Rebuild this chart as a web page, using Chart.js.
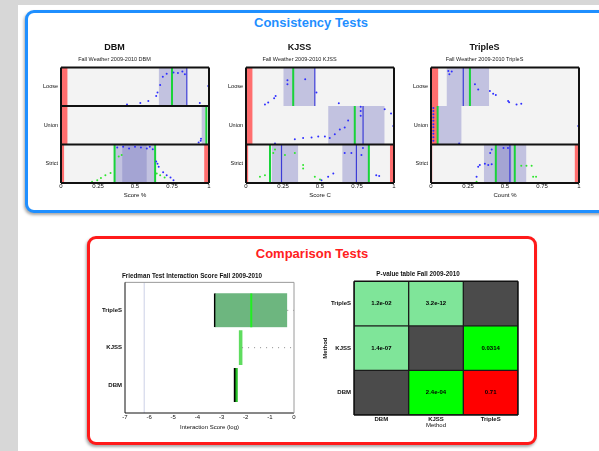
<!DOCTYPE html>
<html>
<head>
<meta charset="utf-8">
<script src="https://cdn.jsdelivr.net/npm/chart.js@4.4.1/dist/chart.umd.min.js"></script>
<style>
  html, body { margin: 0; padding: 0; }
  body { width: 599px; height: 451px; overflow: hidden; position: relative; background: #d7d7d7;
         font-family: "Liberation Sans", Arial, sans-serif; }
  #sheet { position: absolute; left: 18px; top: 5px; right: 0; bottom: 0; background: #fff; }
  .panel { position: absolute; box-sizing: border-box; border-radius: 9px; background: #fff; }
  #consistency { left: 25px; top: 10px; width: 600px; height: 203px; border: 3px solid #1f8fff;
                 box-shadow: -1px 2px 3px rgba(0,0,0,0.35); }
  #comparison { left: 87px; top: 236px; width: 450px; height: 209px; border: 3px solid #ff1a1a;
                box-shadow: -1px 2px 3px rgba(0,0,0,0.35); }
  .heading { position: absolute; width: 240px; text-align: center; font-weight: bold; font-size: 13px;
             line-height: 15px; white-space: nowrap; }
  #h1 { left: 191px; top: 14.5px; color: #1f8fff; }
  #h2 { left: 192px; top: 245.5px; color: #ff2020; }
  canvas { position: absolute; }
</style>
</head>
<body>
<div id="sheet"></div>
<div class="panel" id="consistency"></div>
<div class="panel" id="comparison"></div>
<div class="heading" id="h1">Consistency Tests</div>
<div class="heading" id="h2">Comparison Tests</div>

<canvas id="cDBM" width="200" height="163" style="left:20px;top:40px"></canvas>
<canvas id="cKJSS" width="200" height="163" style="left:205px;top:40px"></canvas>
<canvas id="cTripleS" width="200" height="163" style="left:390px;top:40px"></canvas>
<canvas id="cFriedman" width="215" height="165" style="left:90px;top:268px"></canvas>
<canvas id="cPvalue" width="210" height="164" style="left:318px;top:268px"></canvas>

<script>
// ---------- consistency panels ----------
const rowNames = ['Loose', 'Union', 'Strict'];
const scoreTicks = [0, 0.25, 0.5, 0.75, 1];
const scoreTickLabels = ['0', '0.25', '0.5', '0.75', '1'];

// [row, from, to]
const dbmRed = [[0, 0, 0.045], [1, 0, 0.045], [2, 0, 0.022], [2, 0.967, 1]];
const dbmBand = [[0, 0.66, 0.85], [1, 0.949, 0.978], [2, 0.362, 0.636]];
const dbmCore = [[2, 0.413, 0.58]];
// [row, x]
const dbmGreen = [[0, 0.75], [1, 0.982], [2, 0.362], [2, 0.636]];
const dbmBlue = [[0, 0.85]];
// [x, y]  (y = row + position inside the row, top = 0)
const dbmBlueDots = [
  [0.446, 0.96], [0.536, 0.92], [0.59, 0.87], [0.643, 0.74], [0.652, 0.65], [0.67, 0.45],
  [0.688, 0.24], [0.714, 0.16], [0.76, 0.13], [0.79, 0.14], [0.82, 0.10], [0.837, 0.17],
  [0.938, 0.92], [0.995, 0.48],
  [0.93, 1.95], [0.944, 1.9], [0.946, 1.85],
  [0.38, 2.08], [0.42, 2.06], [0.46, 2.1], [0.5, 2.06], [0.54, 2.08], [0.58, 2.1], [0.6, 2.06],
  [0.62, 2.12], [0.643, 2.44], [0.652, 2.5], [0.66, 2.58], [0.69, 2.72], [0.714, 2.8],
  [0.74, 2.86], [0.76, 2.93]
];
const dbmGreenDots = [
  [0.21, 2.97], [0.245, 2.93], [0.27, 2.87], [0.3, 2.8], [0.335, 2.74], [0.39, 2.31],
  [0.41, 2.27], [0.647, 2.75], [0.67, 2.8], [0.7, 2.86]
];
const dbmDividers = [1, 2];

const kjssRed = [[0, 0, 0.045], [1, 0, 0.045], [2, 0, 0.016], [2, 0.972, 1]];
const kjssBand = [[0, 0.252, 0.465], [1, 0.555, 0.937], [2, 0.173, 0.353], [2, 0.65, 0.83]];
const kjssCore = [];
const kjssGreen = [[0, 0.319], [1, 0.735], [2, 0.162], [2, 0.83]];
const kjssBlue = [[0, 0.465], [1, 0.791], [2, 0.24], [2, 0.746]];
const kjssBlueDots = [
  [0.128, 0.96], [0.15, 0.91], [0.19, 0.8], [0.2, 0.74], [0.28, 0.33], [0.28, 0.43],
  [0.4, 0.3], [0.476, 0.65], [0.627, 0.93],
  [0.196, 1.975], [0.33, 1.86], [0.386, 1.83], [0.443, 1.82], [0.488, 1.79], [0.533, 1.79],
  [0.566, 1.83], [0.6, 1.73], [0.634, 1.61], [0.667, 1.56], [0.69, 1.375], [0.775, 1.02],
  [0.775, 1.125], [0.775, 1.25], [0.937, 1.08], [0.98, 1.19], [0.995, 1.52],
  [0.51, 2.93], [0.555, 2.84], [0.59, 2.75], [0.667, 2.22], [0.712, 2.22], [0.79, 2.09],
  [0.78, 2.27], [0.88, 2.8], [0.9, 2.82]
];
const kjssGreenDots = [
  [0.094, 2.84], [0.128, 2.8], [0.184, 2.22], [0.196, 2.13], [0.263, 2.27], [0.33, 2.22],
  [0.386, 2.53], [0.386, 2.62], [0.465, 2.84], [0.5, 2.91]
];
const kjssDividers = [2];

const tripRed = [[0, 0, 0.05], [1, 0, 0.05], [2, 0, 0.01], [2, 0.97, 1]];
const tripBand = [[0, 0.105, 0.393], [1, 0.05, 0.207], [2, 0.357, 0.645]];
const tripCore = [[2, 0.438, 0.544]];
const tripGreen = [[0, 0.263], [1, 0.045], [2, 0.438], [2, 0.566]];
const tripBlue = [[0, 0.218], [2, 0.533]];
const tripBlueDots = [
  [0.117, 0.09], [0.124, 0.17], [0.14, 0.1], [0.297, 0.43], [0.319, 0.57], [0.398, 0.61],
  [0.42, 0.68], [0.438, 0.71], [0.521, 0.87], [0.528, 0.9], [0.578, 0.96], [0.61, 0.94],
  [0.016, 1.05], [0.016, 1.13], [0.016, 1.21], [0.016, 1.3], [0.016, 1.38], [0.016, 1.47],
  [0.016, 1.55], [0.016, 1.64], [0.016, 1.72], [0.016, 1.81], [0.016, 1.9], [0.19, 1.97],
  [0.995, 1.52],
  [0.308, 2.84], [0.319, 2.58], [0.33, 2.53], [0.364, 2.5], [0.387, 2.53], [0.41, 2.51],
  [0.4, 2.22], [0.41, 2.13], [0.49, 2.09], [0.52, 2.09]
];
const tripGreenDots = [
  [0.308, 2.97], [0.61, 2.55], [0.645, 2.55], [0.68, 2.55], [0.69, 2.84], [0.71, 2.84]
];
const tripDividers = [2];

// ---------- Friedman interaction score ----------
const friedMethods = ['TripleS', 'KJSS', 'DBM'];
const friedLow = [-3.31, -2.27, -2.49];
const friedHigh = [-0.28, -2.15, -2.33];
const friedMedian = [[0, -1.77]];
const friedWhiskers = [[0, -0.28, 0], [1, -2.15, 0]];
const friedRef = [-6.2];
const friedTicks = [-7, -6, -5, -4, -3, -2, -1, 0];

// ---------- p-value table ----------
const pCols = ['DBM', 'KJSS', 'TripleS'];
const pRows = ['TripleS', 'KJSS', 'DBM'];
const pLabels = [
  ['1.2e-02', '3.2e-12', ''],
  ['1.4e-07', '', '0.0314'],
  ['', '2.4e-04', '0.71']
];
const pShade = [
  ['#7fe599', '#7fe599', '#4b4b4b'],
  ['#7fe599', '#4b4b4b', '#00ff00'],
  ['#4b4b4b', '#00ff00', '#ff0000']
];

const FONT = '"Liberation Sans", Arial, sans-serif';
Chart.defaults.font.family = FONT;
Chart.defaults.color = '#111';

// plot background + frame around the chart area
const framePlugin = {
  id: 'frame',
  beforeDatasetsDraw(chart, args, o) {
    if (!o.bg) return;
    const { ctx, chartArea: a } = chart;
    ctx.save();
    ctx.fillStyle = o.bg;
    ctx.fillRect(a.left, a.top, a.width, a.height);
    ctx.restore();
  },
  afterDatasetsDraw(chart, args, o) {
    const { ctx, chartArea: a } = chart;
    const sides = o.sides || {};
    const seg = (c, x1, y1, x2, y2) => {
      if (!c) return;
      ctx.beginPath(); ctx.strokeStyle = c; ctx.lineWidth = o.width || 1;
      ctx.moveTo(x1, y1); ctx.lineTo(x2, y2); ctx.stroke();
    };
    ctx.save();
    seg(sides.top, a.left, a.top, a.right, a.top);
    seg(sides.bottom, a.left, a.bottom, a.right, a.bottom);
    seg(sides.left, a.left, a.top, a.left, a.bottom);
    seg(sides.right, a.right, a.top, a.right, a.bottom);
    ctx.restore();
  }
};

const baseOpts = {
  responsive: false, animation: false, devicePixelRatio: 1, events: []
};

function consistencyChart(id, cfg) {
  const ds = [];
  const rect = (r, a, b, color, order) => ({
    type: 'line', data: [{ x: a, y: r }, { x: b, y: r }], fill: { value: r + 1 },
    backgroundColor: color, borderWidth: 0, pointRadius: 0, order
  });
  const vline = (r, x, color, w, order) => ({
    type: 'line', data: [{ x, y: r }, { x, y: r + 1 }], borderColor: color, borderWidth: w,
    pointRadius: 0, fill: false, order
  });
  cfg.band.forEach(([r, a, b]) => ds.push(rect(r, a, b, 'rgba(145,145,205,0.5)', 7)));
  cfg.core.forEach(([r, a, b]) => ds.push(rect(r, a, b, 'rgba(110,110,185,0.35)', 6)));
  cfg.red.forEach(([r, a, b]) => ds.push(rect(r, a, b, '#ff6e6e', 5)));
  cfg.blue.forEach(([r, x]) => ds.push(vline(r, x, '#3c3cd6', 1.2, 4)));
  cfg.green.forEach(([r, x]) => ds.push(vline(r, x, '#19d33a', 2, 3)));
  ds.push({ type: 'scatter', data: cfg.blueDots.map(([x, y]) => ({ x, y })), pointRadius: 1,
            backgroundColor: '#2f2fff', borderWidth: 0, order: 2 });
  ds.push({ type: 'scatter', data: cfg.greenDots.map(([x, y]) => ({ x, y })), pointRadius: 1,
            backgroundColor: '#2ee62e', borderWidth: 0, order: 1 });
  cfg.dividers.forEach(d => ds.push({
    type: 'line', data: [{ x: 0, y: d }, { x: 1, y: d }], borderColor: '#111', borderWidth: 2,
    pointRadius: 0, fill: false, order: 0
  }));

  new Chart(document.getElementById(id), {
    type: 'scatter',
    data: { datasets: ds },
    options: Object.assign({}, baseOpts, {
      layout: { padding: { top: 0, right: 11, left: 0, bottom: 0 } },
      plugins: {
        legend: { display: false }, tooltip: { enabled: false },
        title: { display: true, text: cfg.title, font: { size: 9, weight: 'bold' }, color: '#111',
                 padding: { top: 2.6, bottom: 0 } },
        subtitle: { display: true, text: cfg.subtitle, font: { size: 5.5 }, color: '#222',
                    padding: { top: 2.6, bottom: 5 } },
        frame: { bg: '#f3f3f3', width: 2,
                 sides: { top: '#111', bottom: '#111', left: '#111', right: '#111' } }
      },
      scales: {
        x: {
          type: 'linear', min: 0, max: 1,
          afterBuildTicks: s => { s.ticks = scoreTicks.map(v => ({ value: v })); },
          ticks: { callback: (v, i) => scoreTickLabels[i], font: { size: 6 }, padding: 0,
                   maxRotation: 0, autoSkip: false },
          grid: { display: false, drawTicks: false, tickLength: 0 }, border: { display: false },
          title: { display: true, text: cfg.xTitle, font: { size: 6 }, padding: { top: 0, bottom: 4.4 } },
          afterFit: s => { s.height = 20; }
        },
        y: {
          type: 'linear', min: 0, max: 3, reverse: true,
          afterBuildTicks: s => { s.ticks = [0.5, 1.5, 2.5].map(v => ({ value: v })); },
          ticks: { callback: (v, i) => rowNames[i], font: { size: 5.5 }, padding: 3, autoSkip: false },
          grid: { display: false, drawTicks: false, tickLength: 0 }, border: { display: false },
          afterFit: s => { s.width = 41; }
        }
      }
    }),
    plugins: [framePlugin]
  });
}

consistencyChart('cDBM', {
  title: 'DBM', subtitle: 'Fall Weather 2009-2010 DBM', xTitle: 'Score %',
  red: dbmRed, band: dbmBand, core: dbmCore, green: dbmGreen, blue: dbmBlue,
  blueDots: dbmBlueDots, greenDots: dbmGreenDots, dividers: dbmDividers
});
consistencyChart('cKJSS', {
  title: 'KJSS', subtitle: 'Fall Weather 2009-2010 KJSS', xTitle: 'Score C',
  red: kjssRed, band: kjssBand, core: kjssCore, green: kjssGreen, blue: kjssBlue,
  blueDots: kjssBlueDots, greenDots: kjssGreenDots, dividers: kjssDividers
});
consistencyChart('cTripleS', {
  title: 'TripleS', subtitle: 'Fall Weather 2009-2010 TripleS', xTitle: 'Count %',
  red: tripRed, band: tripBand, core: tripCore, green: tripGreen, blue: tripBlue,
  blueDots: tripBlueDots, greenDots: tripGreenDots, dividers: tripDividers
});

// ---------- Friedman chart ----------
const friedFill = ['#6db67f', '#5fdc5f', '#25c025'];
const friedEdge = [1.6, 0, 2];
const friedSets = [
  {
    type: 'bar', indexAxis: 'y', order: 3,
    data: friedMethods.map((m, i) => ({ x: [friedLow[i], friedHigh[i]], y: i })),
    backgroundColor: friedFill, borderColor: '#000', borderSkipped: false,
    borderWidth: c => ({ left: friedEdge[c.dataIndex], right: 0, top: 0, bottom: 0 }),
    barThickness: 34
  }
];
friedRef.forEach(x => friedSets.push({
  type: 'line', data: [{ x, y: -0.75 }, { x, y: 2.75 }], borderColor: '#dcdfee', borderWidth: 1,
  pointRadius: 0, fill: false, order: 4
}));
friedMedian.forEach(([r, x]) => friedSets.push({
  type: 'line', data: [{ x, y: r - 0.45 }, { x, y: r + 0.45 }], borderColor: '#22ee22', borderWidth: 2,
  pointRadius: 0, fill: false, order: 1
}));
friedWhiskers.forEach(([r, a, b]) => friedSets.push({
  type: 'line', data: [{ x: a, y: r }, { x: b, y: r }], borderColor: '#8a8a8a', borderWidth: 1,
  borderDash: [1, 5], pointRadius: 0, fill: false, order: 2
}));

new Chart(document.getElementById('cFriedman'), {
  type: 'scatter',
  data: { datasets: friedSets },
  options: Object.assign({}, baseOpts, {
    layout: { padding: { top: 0, right: 11, left: 0, bottom: 0 } },
    plugins: {
      legend: { display: false }, tooltip: { enabled: false },
      title: { display: true, text: 'Friedman Test Interaction Score Fall 2009-2010',
               font: { size: 6.3, weight: 'bold' }, color: '#111', padding: { top: 4.4, bottom: 2.4 } },
      frame: { width: 1, sides: { top: '#9a9a9a', right: '#9a9a9a', bottom: '#111', left: '#111' } }
    },
    scales: {
      x: {
        type: 'linear', min: -7, max: 0, offset: false, beginAtZero: false,
        afterBuildTicks: s => { s.ticks = friedTicks.map(v => ({ value: v })); },
        ticks: { callback: (v, i) => String(friedTicks[i]), font: { size: 6 }, padding: 1,
                 maxRotation: 0, autoSkip: false },
        grid: { display: false, drawTicks: false, tickLength: 0, offset: false }, border: { display: false },
        title: { display: true, text: 'Interaction Score (log)', font: { size: 6 },
                 padding: { top: 0, bottom: 2.4 } },
        afterFit: s => { s.height = 20; }
      },
      y: {
        type: 'linear', min: -0.75, max: 2.75, reverse: true, offset: false,
        afterBuildTicks: s => { s.ticks = friedMethods.map((m, i) => ({ value: i })); },
        ticks: { callback: (v, i) => friedMethods[i], font: { size: 6, weight: 'bold' }, padding: 3,
                 autoSkip: false },
        grid: { display: false, drawTicks: false, tickLength: 0, offset: false }, border: { display: false },
        afterFit: s => { s.width = 35; }
      }
    }
  }),
  plugins: [framePlugin]
});

// ---------- p-value table ----------
const cellText = {
  id: 'cellText',
  afterDatasetsDraw(chart) {
    const ctx = chart.ctx;
    ctx.save();
    ctx.font = 'bold 6px ' + FONT;
    ctx.fillStyle = '#000';
    ctx.textAlign = 'center';
    ctx.textBaseline = 'middle';
    chart.data.datasets.forEach((d, r) => {
      chart.getDatasetMeta(r).data.forEach((bar, c) => {
        const t = pLabels[r][c];
        if (t) ctx.fillText(t, bar.x, (bar.y + bar.base) / 2);
      });
    });
    ctx.restore();
  }
};

new Chart(document.getElementById('cPvalue'), {
  type: 'bar',
  data: {
    labels: pCols,
    datasets: pRows.map((name, r) => ({
      label: name,
      data: pCols.map(() => [r, r + 1]),
      backgroundColor: pShade[r], borderColor: '#1c1c1c', borderWidth: 1, borderSkipped: false,
      grouped: false, barPercentage: 1, categoryPercentage: 1
    }))
  },
  options: Object.assign({}, baseOpts, {
    layout: { padding: { top: 0, right: 10, left: 0, bottom: 0 } },
    plugins: {
      legend: { display: false }, tooltip: { enabled: false },
      title: { display: true, text: 'P-value table Fall 2009-2010', font: { size: 6.3, weight: 'bold' },
               color: '#111', padding: { top: 2.7, bottom: 3.1 } },
      frame: { width: 1.5, sides: { top: '#111', right: '#111', bottom: '#111', left: '#111' } }
    },
    scales: {
      x: {
        type: 'category',
        ticks: { font: { size: 6, weight: 'bold' }, padding: 0.5, maxRotation: 0, autoSkip: false },
        grid: { display: false, drawTicks: false, tickLength: 0 }, border: { display: false },
        title: { display: true, text: 'Method', font: { size: 6 }, padding: { top: 0, bottom: 2.9 } },
        afterFit: s => { s.height = 17; }
      },
      y: {
        type: 'linear', min: 0, max: 3, reverse: true,
        afterBuildTicks: s => { s.ticks = [0.5, 1.5, 2.5].map(v => ({ value: v })); },
        ticks: { callback: (v, i) => pRows[i], font: { size: 6, weight: 'bold' }, padding: 3, autoSkip: false },
        grid: { display: false, drawTicks: false, tickLength: 0 }, border: { display: false },
        title: { display: true, text: 'Method', font: { size: 6, weight: 'bold' } },
        afterFit: s => { s.width = 36; }
      }
    }
  }),
  plugins: [framePlugin, cellText]
});
</script>
</body>
</html>
